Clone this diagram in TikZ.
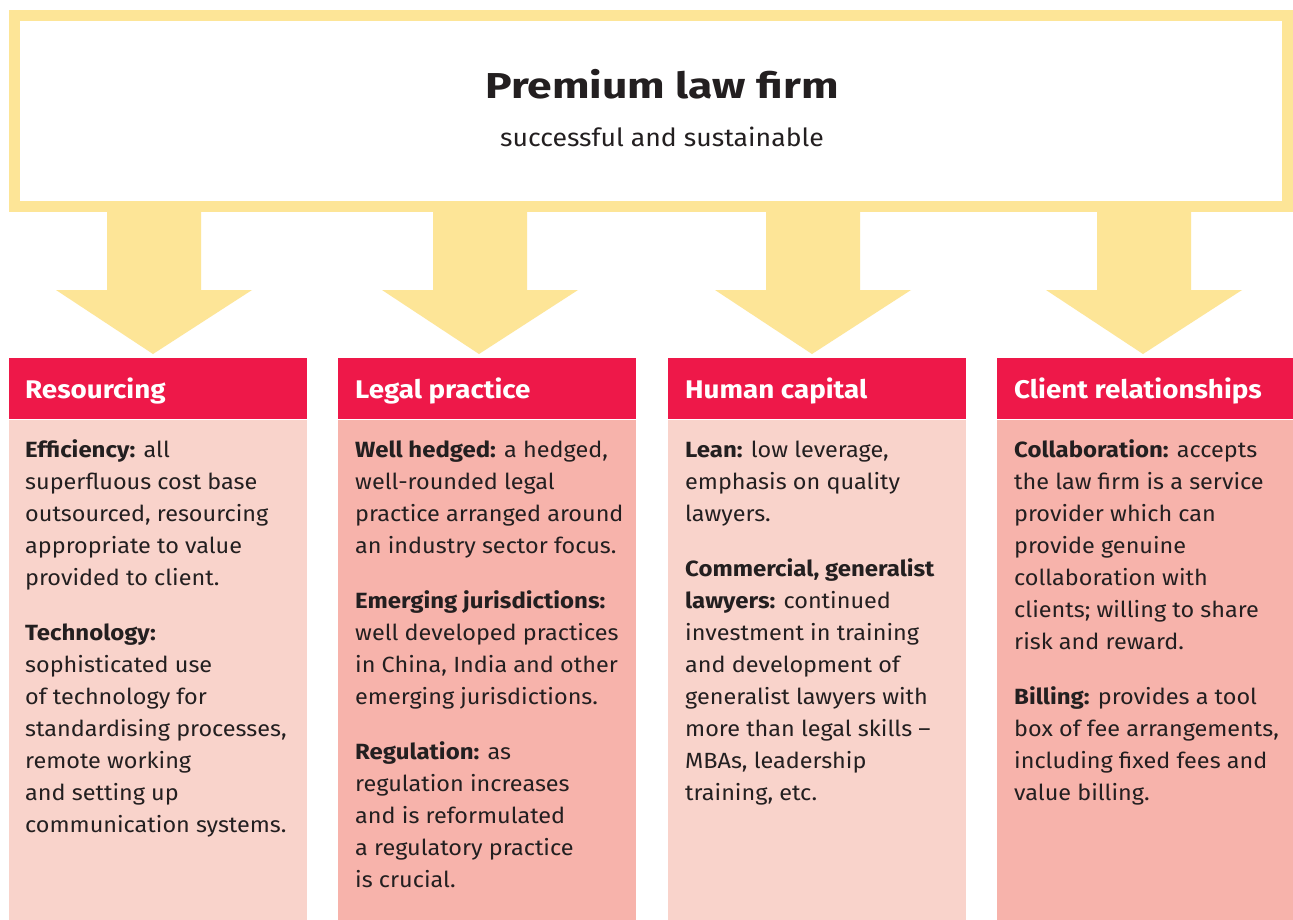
\documentclass[tikz,border=0pt]{standalone}
\usepackage{fontspec}
\setmainfont[FakeStretch=1.065,BoldFeatures={FakeStretch=1.09}]{Fira Sans}
\newfontfamily\titlefont[BoldFeatures={FakeStretch=1.235}]{Fira Sans}
\definecolor{ylw}{HTML}{FDE597}
\definecolor{hdr}{HTML}{EE1849}
\definecolor{pinkA}{HTML}{F9D3CB}
\definecolor{pinkB}{HTML}{F7B3AB}
\definecolor{txt}{HTML}{231F20}
\tikzset{
  frame/.style={draw=ylw, line width=11pt, fill=white, inner sep=0pt, minimum width=1273pt, minimum height=191pt},
  hdrbox/.style={fill=hdr, anchor=north west, inner sep=0pt, minimum width=298pt, minimum height=61pt},
  hdrtext/.style={anchor=base west, inner sep=0pt, text=white, font=\fontsize{25.5}{30}\selectfont\bfseries},
  bodybox/.style={anchor=north west, inner sep=0pt, minimum width=298pt, minimum height=500pt},
  bodytext/.style={anchor=north west, inner sep=0pt, align=left, text=txt, font=\fontsize{22}{32}\selectfont},
  bigarrow/.style={fill=ylw}
}
\begin{document}
\begin{tikzpicture}[x=1pt,y=-1pt]
\useasboundingbox (0,0) rectangle (1293,919);
\fill[white] (0,0) rectangle (1293,919);
% top frame
\node[frame] (top) at (651,111) {};
\node[anchor=base, inner sep=0pt, text=txt, font=\titlefont\fontsize{36}{40}\selectfont\bfseries] (title) at (662,98) {Premium law firm};
\node[anchor=base, inner sep=0pt, text=txt, font=\fontsize{25}{30}\selectfont] (subtitle) at (662,146) {successful and sustainable};
% arrows
\foreach \c in {154,480,813,1144}{
  \fill[bigarrow] (\c-47,206) -- (\c+47,206) -- (\c+47,290) -- (\c+98,290) -- (\c-1,354) -- (\c-98,290) -- (\c-47,290) -- cycle;
}
% columns
\node[hdrbox] (h1) at (9,358) {};
\node[hdrbox] (h2) at (338,358) {};
\node[hdrbox] (h3) at (668,358) {};
\node[hdrbox] (h4) at (997,358) {};
\node[bodybox, fill=pinkA] (b1) at (h1.south west) {};
\node[bodybox, fill=pinkB] (b2) at (h2.south west) {};
\node[bodybox, fill=pinkA] (b3) at (h3.south west) {};
\node[bodybox, fill=pinkB] (b4) at (h4.south west) {};
\node[hdrtext] (t1) at (25,398) {Resourcing};
\node[hdrtext] (t2) at (355,398) {Legal practice};
\node[hdrtext] (t3) at (685,398) {Human capital};
\node[hdrtext] (t4) at (1014,398) {Client relationships};
\node[bodytext] (c1) at (25,434.6) {\strut\textbf{Efficiency:} all\\
superfluous cost base\\
outsourced, resourcing\\
appropriate to value\\
provided to client.\\[23pt]
\textbf{Technology:}\\
sophisticated use\\
of technology for\\
standardising processes,\\
remote working\\
and setting up\\
communication systems.};
\node[bodytext] (c2) at (355,434.6) {\strut\textbf{Well hedged:} a hedged,\\
well-rounded legal\\
practice arranged around\\
an industry sector focus.\\[23pt]
\textbf{Emerging jurisdictions:}\\
well developed practices\\
in China, India and other\\
emerging jurisdictions.\\[23pt]
\textbf{Regulation:} as\\
regulation increases\\
and is reformulated\\
a regulatory practice\\
is crucial.};
\node[bodytext] (c3) at (685,434.6) {\strut\textbf{Lean:} low leverage,\\
emphasis on quality\\
lawyers.\\[23pt]
\textbf{Commercial, generalist}\\
\textbf{lawyers:} continued\\
investment in training\\
and development of\\
generalist lawyers with\\
more than legal skills --\\
MBAs, leadership\\
training, etc.};
\node[bodytext] (c4) at (1014,434.6) {\strut\textbf{Collaboration:} accepts\\
the law firm is a service\\
provider which can\\
provide genuine\\
collaboration with\\
clients; willing to share\\
risk and reward.\\[23pt]
\textbf{Billing:} provides a tool\\
box of fee arrangements,\\
including fixed fees and\\
value billing.};
\end{tikzpicture}
\end{document}
